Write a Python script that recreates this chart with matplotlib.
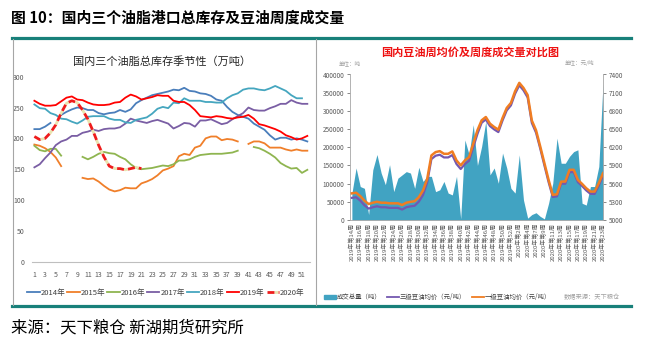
import numpy as np
import matplotlib
matplotlib.use("Agg")
import matplotlib.pyplot as plt
from matplotlib.lines import Line2D
from matplotlib.patches import Patch

plt.rcParams['font.family'] = ['Noto Sans CJK SC', 'DejaVu Sans']

nan = np.nan

# ---- 左图：国内三个油脂总库存季节性（万吨） ----
weeks = list(range(1, 53))
week_labels = [str(w) for w in range(1, 52, 2)]

inv_2014 = [215, 215, 219, 225, nan, 238, 243, 247, 250, 249, 246, 246, 241, 239, 241, 242,
            246, 243, 247, 257, 262, 266, 270, 272, 274, 276, 279, 278, 282, 277, 276, 273,
            272, 269, 263, 261, 251, 243, 238, 235, 232, 224, 219, 214, 205, 198, 201, 201,
            198, 200, 198, 195]
inv_2015 = [190, 188, 184, 178, 169, 155, nan, nan, nan, 136, 134, 135, 130, 123, 117, 114,
            116, 120, 119, 119, 127, 130, 134, 140, 148, 151, 155, 171, 175, 173, 185, 188,
            200, 203, 203, 197, 199, 198, 195, nan, 191, 195, 195, 192, 185, 185, 185, 182,
            180, 182, 180, 180]
inv_2016 = [188, 181, 179, 183, 183, 172, nan, nan, nan, 170, 166, 170, 175, 178, 176, 175,
            170, 166, 158, 152, 150, 151, 152, 154, 156, 155, 158, 164, 164, 166, 170, 173,
            174, 175, 175, 175, 176, 177, 180, nan, nan, 186, 184, 180, 175, 169, 160, 155,
            151, 152, 144, 149]
inv_2017 = [153, 158, 168, 177, 189, 195, 198, 204, 204, 209, 211, 214, 212, 215, 216, 216,
            218, 224, 232, 229, 227, 225, 228, 230, 227, 224, 216, 220, 225, 224, 219, 229,
            229, 231, 227, 223, 225, 231, 236, 241, 250, 246, 245, 245, 249, 252, 256, 256,
            262, 258, 256, 256]
inv_2018 = [255, 249, 248, 241, 238, 232, 231, 227, 224, 229, 235, 236, 236, 236, 232, 230,
            230, 226, 225, 230, 232, 234, 240, 248, 251, 249, 258, 257, 265, 261, 261, 261,
            259, 259, 258, 258, 265, 270, 273, 279, 281, 281, 279, 278, 281, 285, 281, 277,
            270, 265, 265, nan]
inv_2019 = [261, 256, 253, 253, 254, 260, 266, 268, 263, 262, 258, 255, 254, 254, 255, 258,
            259, 266, 271, 268, 263, 265, 267, 270, 269, 269, 261, 259, 259, 254, 246, 236,
            235, 234, 236, 235, 233, 232, 234, 235, 238, 232, 223, 221, 218, 215, 211, 205,
            202, 198, 200, 204]
inv_2020 = [203, 198, 200, 209, 222, 241, 257, 261, 258, 246, 231, 211, 189, 170, 155, 151,
            151, 149, 151, 153, 151] + [nan] * 31

# ---- 右图：国内豆油周均价及周度成交量 ----
cats = ["2019年第%d周" % w for w in range(14, 53)] + \
       ["2020年第%d周" % w for w in [1, 2, 3, 4, 5, 7, 8, 9, 10, 11, 12, 13, 14, 15, 16,
                                     17, 18, 19, 20, 21, 22, 23]]
volume = [73000, 143000, 92000, 87000, 15000, 138000, 180000, 129000, 97000, 152000,
          78000, 115000, 124000, 133000, 129000, 87000, 145000, 106000, 120000, 120000,
          78000, 83000, 106000, 74000, 69000, 120000, 3000, 220000, 180000, 262000,
          150000, 202000, 271000, 124000, 143000, 101000, 184000, 143000, 87000, 74000,
          179000, 55000, 5000, 15000, 20000, 10000, 3000, 46000, 101000, 225000,
          156000, 156000, 175000, 188000, 193000, 46000, 41000, 92000, 92000, 147000,
          375000]
price_grade1 = [5440, 5450, 5395, 5318, 5263, 5285, 5301, 5285, 5285, 5275,
                5275, 5275, 5247, 5285, 5300, 5310, 5378, 5488, 5680, 6065,
                6120, 6136, 6092, 6092, 6131, 5983, 5901, 5983, 6038, 6260,
                6480, 6644, 6699, 6589, 6534, 6490, 6683, 6848, 6931, 7124,
                7262, 7179, 7060, 6640, 6480, 6214, 5938, 5662, 5414, 5425,
                5634, 5634, 5828, 5828, 5662, 5596, 5524, 5469, 5469, 5607, 5772]
price_grade3 = [5365, 5375, 5320, 5243, 5188, 5210, 5226, 5210, 5210, 5200,
                5200, 5200, 5172, 5210, 5225, 5235, 5303, 5413, 5620, 6005,
                6060, 6076, 6032, 6032, 6071, 5923, 5841, 5923, 5978, 6200,
                6420, 6604, 6659, 6549, 6494, 6450, 6643, 6808, 6891, 7084,
                7222, 7139, 7020, 6600, 6440, 6180, 5900, 5625, 5380, 5390,
                5600, 5598, 5790, 5790, 5625, 5560, 5488, 5432, 5430, 5570, 5735]

W, H = 646, 351
fig = plt.figure(figsize=(W / 100, H / 100), dpi=100)


def fx(px):
    return px / W


def fy(py):
    return 1 - py / H


# 外框
teal = '#18807a'
fig.add_artist(Line2D([fx(12), fx(631)], [fy(38), fy(38)], color=teal, lw=2.3))
fig.add_artist(Line2D([fx(12), fx(631)], [fy(306), fy(306)], color=teal, lw=2.3))
fig.add_artist(Line2D([fx(12.5), fx(12.5)], [fy(39), fy(305)], color='#a6a6a6', lw=0.8))
fig.add_artist(Line2D([fx(316), fx(316)], [fy(39), fy(305)], color='#a6a6a6', lw=0.8))

fig.text(fx(11), fy(18), "图 10：国内三个油脂港口总库存及豆油周度成交量",
         fontsize=10.7, weight='bold', va='center', ha='left')
fig.text(fx(11), fy(328), "来源：天下粮仓 新湖期货研究所",
         fontsize=11.8, va='center', ha='left')

# ---- 左图 ----
ax = fig.add_axes([fx(31.7), fy(261.7), fx(310) - fx(31.7), fy(76.7) - fy(261.7)])
series = [
    ("2014年", inv_2014, '#4a7ebb'),
    ("2015年", inv_2015, '#f07f2a'),
    ("2016年", inv_2016, '#8fb550'),
    ("2017年", inv_2017, '#7a5ea4'),
    ("2018年", inv_2018, '#45a6bf'),
    ("2019年", inv_2019, '#ff0000'),
]
for name, vals, col in series:
    ax.plot(weeks, vals, color=col, lw=1.3, label=name)
ax.plot(weeks, inv_2020, color='#ee1c1c', lw=2.0, ls=(0, (2.5, 1.5)),
        gapcolor='#e9e4b0', label="2020年")

ax.set_xlim(0.5, 52.5)
ax.set_ylim(0, 300)
ax.set_yticks(range(0, 301, 50))
ax.set_xticks(range(1, 52, 2))
ax.set_xticklabels(week_labels)
ax.tick_params(axis='both', length=0, labelsize=5, colors='#595959')
ax.tick_params(axis='x', pad=7)
ax.tick_params(axis='y', pad=5)
for s in ['top', 'left', 'right']:
    ax.spines[s].set_visible(False)
ax.spines['bottom'].set_color('#bfbfbf')
ax.spines['bottom'].set_linewidth(0.8)
ax.patch.set_alpha(0)

fig.text(fx(162), fy(62), "国内三个油脂总库存季节性（万吨）", fontsize=8,
         ha='center', va='center', color='#262626')
ax.legend(loc='center', bbox_to_anchor=(fx(166), fy(293)), bbox_transform=fig.transFigure,
          ncol=7, frameon=False, fontsize=5.5, handlelength=1.6, handletextpad=0.1,
          columnspacing=0.3, labelcolor='#404040')

# ---- 右图 ----
x = np.arange(len(cats))
ax2 = fig.add_axes([fx(350), fy(220), fx(603) - fx(350), fy(74.5) - fy(220)])
ax2.fill_between(x, volume, 0, color='#41a3c2', lw=0)
ax2.set_xlim(-0.45, 60)
ax2.set_ylim(0, 400000)
ax2.set_yticks(range(0, 400001, 50000))
ax2.set_yticklabels([str(v) for v in range(0, 400001, 50000)])
ax2.set_xticks(x[::2])
ax2.set_xticklabels(cats[::2], rotation=90)
ax2.tick_params(axis='x', length=0, labelsize=4.3, colors='#595959', pad=2)
ax2.tick_params(axis='y', length=2, width=0.5, labelsize=4.6, colors='#595959', pad=2)
for s in ['top', 'right']:
    ax2.spines[s].set_visible(False)
for s in ['left', 'bottom']:
    ax2.spines[s].set_color('#a6a6a6')
    ax2.spines[s].set_linewidth(0.6)

ax3 = ax2.twinx()
ax3.plot(x, price_grade3, color='#7458b0', lw=1.6)
ax3.plot(x, price_grade1, color='#f07d22', lw=1.8)
ax3.set_ylim(5000, 7400)
ax3.set_yticks(range(5000, 7401, 300))
ax3.tick_params(axis='y', length=2, width=0.5, labelsize=4.6, colors='#595959', pad=2)
for s in ['top', 'left', 'bottom']:
    ax3.spines[s].set_visible(False)
ax3.spines['right'].set_color('#a6a6a6')
ax3.spines['right'].set_linewidth(0.6)

fig.text(fx(470), fy(52), "国内豆油周均价及周度成交量对比图", fontsize=8, weight='bold',
         color='#ee1111', ha='center', va='center')
fig.text(fx(350), fy(63), "单位：吨", fontsize=4, color='#a0a0a0', ha='center', va='center')
fig.text(fx(580), fy(63), "单位：元/吨", fontsize=4, color='#a0a0a0', ha='center', va='center')

handles = [Patch(color='#41a3c2'),
           Line2D([], [], color='#7458b0', lw=1.3),
           Line2D([], [], color='#f07d22', lw=1.3)]
labels = ["成交总量（吨）", "三级豆油均价（元/吨）", "一级豆油均价（元/吨）"]
fig.legend(handles, labels, loc='center left', bbox_to_anchor=(fx(318), fy(297)),
           ncol=3, frameon=False, fontsize=4.6, handlelength=1.9, handleheight=0.6,
           handletextpad=0.1, columnspacing=0.9, labelcolor='#404040')
fig.text(fx(564), fy(297), "数据来源：天下粮仓", fontsize=4.5, style='italic',
         color='#a0a0a0', ha='left', va='center')

fig.savefig("out.png", dpi=100)
